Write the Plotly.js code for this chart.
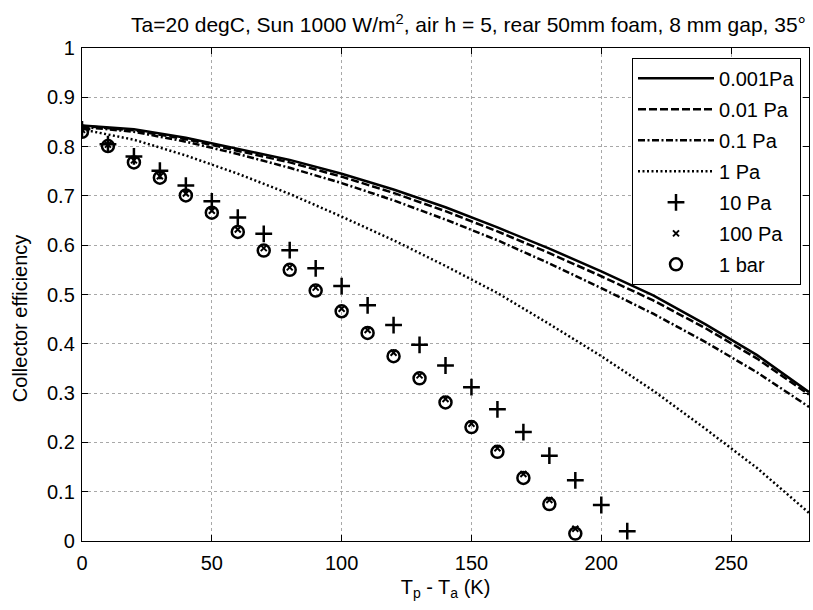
<!DOCTYPE html>
<html>
<head>
<meta charset="utf-8">
<script src="https://cdn.plot.ly/plotly-3.0.1.min.js"></script>
<style>html,body{margin:0;padding:0;background:#fff;} #chart{width:813px;height:610px;}</style>
</head>
<body>
<div id="chart"></div>
<script>
// Line curves (T_p - T_a in K)
const lineX = [0, 20, 40, 60, 80, 100, 120, 140, 160, 180, 200, 220, 240, 260, 280];
const eff_0001Pa = [0.843, 0.835, 0.818, 0.796, 0.773, 0.745, 0.713, 0.677, 0.636, 0.593, 0.547, 0.498, 0.440, 0.377, 0.302];
const eff_001Pa  = [0.842, 0.833, 0.815, 0.792, 0.768, 0.739, 0.706, 0.669, 0.628, 0.584, 0.537, 0.488, 0.432, 0.370, 0.297];
const eff_01Pa   = [0.840, 0.830, 0.810, 0.785, 0.757, 0.726, 0.691, 0.652, 0.610, 0.563, 0.513, 0.461, 0.404, 0.342, 0.272];
const eff_1Pa    = [0.835, 0.814, 0.782, 0.745, 0.704, 0.658, 0.610, 0.558, 0.503, 0.440, 0.375, 0.305, 0.228, 0.148, 0.057];

// Marker series
const x10Pa = [0, 10, 20, 30, 40, 50, 60, 70, 80, 90, 100, 110, 120, 130, 140, 150, 160, 170, 180, 190, 200, 210];
const eff_10Pa = [0.835, 0.805, 0.780, 0.751, 0.721, 0.689, 0.656, 0.623, 0.590, 0.553, 0.517, 0.478, 0.438, 0.398, 0.356, 0.312, 0.267, 0.221, 0.173, 0.123, 0.073, 0.020];
const xBar = [0, 10, 20, 30, 40, 50, 60, 70, 80, 90, 100, 110, 120, 130, 140, 150, 160, 170, 180, 190];
const eff_100Pa = [0.834, 0.804, 0.772, 0.740, 0.705, 0.670, 0.632, 0.594, 0.555, 0.514, 0.471, 0.428, 0.382, 0.336, 0.288, 0.238, 0.188, 0.136, 0.083, 0.025];
const eff_1bar  = [0.830, 0.801, 0.768, 0.737, 0.701, 0.666, 0.627, 0.589, 0.550, 0.508, 0.466, 0.422, 0.375, 0.330, 0.281, 0.231, 0.181, 0.128, 0.075, 0.015];

const names = ["0.001Pa", "0.01 Pa", "0.1 Pa", "1 Pa", "10 Pa", "100 Pa", "1 bar"];
const xTicks = [0, 50, 100, 150, 200, 250];
const yTicks = [0, 0.1, 0.2, 0.3, 0.4, 0.5, 0.6, 0.7, 0.8, 0.9, 1];

const font = "Liberation Sans, Arial, Helvetica, sans-serif";

const traces = [
  {x: lineX, y: eff_0001Pa, name: names[0], mode: "lines", line: {color: "#000", width: 2.5}},
  {x: lineX, y: eff_001Pa, name: names[1], mode: "lines", line: {color: "#000", width: 2.5, dash: "8px,3px"}},
  {x: lineX, y: eff_01Pa, name: names[2], mode: "lines", line: {color: "#000", width: 2.5, dash: "7px,2.5px,2px,2.5px"}},
  {x: lineX, y: eff_1Pa, name: names[3], mode: "lines", line: {color: "#000", width: 2.5, dash: "2px,2.5px"}},
  {x: x10Pa, y: eff_10Pa, name: names[4], mode: "markers", marker: {symbol: "cross-thin-open", size: 12, color: "#000", line: {color: "#000", width: 2.5}}},
  {x: xBar, y: eff_100Pa, name: names[5], mode: "markers", marker: {symbol: "x-thin-open", size: 6, color: "#000", line: {color: "#000", width: 2}}},
  {x: xBar, y: eff_1bar, name: names[6], mode: "markers", marker: {symbol: "circle-open", size: 12, color: "#000", line: {color: "#000", width: 2.5}}}
];
traces.forEach((t, i) => { t.legendgroup = "g" + i; });

const axisCommon = {
  showline: true, linecolor: "#000", linewidth: 1.2, mirror: "ticks",
  ticks: "inside", ticklen: 6, tickcolor: "#000", tickwidth: 1,
  showgrid: true, gridcolor: "#a8a8a8", griddash: "dot", gridwidth: 1,
  zeroline: false, tickfont: {family: font, size: 20, color: "#000"}
};

const layout = {
  width: 813, height: 610,
  margin: {l: 82, r: 4, t: 48, b: 69},
  paper_bgcolor: "#fff", plot_bgcolor: "#fff",
  font: {family: font, color: "#000", size: 20},
  title: {text: "Ta=20 degC, Sun 1000 W/m<sup>2</sup>, air h = 5, rear 50mm foam, 8 mm gap, 35°",
          font: {family: font, size: 21, color: "#000"}, x: 0.9914, xanchor: "right", y: 0.959, yanchor: "middle"},
  xaxis: Object.assign({}, axisCommon, {
    range: [0, 280], tickvals: xTicks, ticklabelstandoff: 4,
    title: {text: "T<sub>p</sub> - T<sub>a</sub> (K)", font: {family: font, size: 20, color: "#000"}, standoff: 6}
  }),
  yaxis: Object.assign({}, axisCommon, {
    range: [0, 1], tickvals: yTicks, ticklabelstandoff: 2
  }),
  annotations: [{
    text: "Collector efficiency", textangle: -90, showarrow: false,
    xref: "paper", yref: "paper", x: -0.0853, y: 0.452, xanchor: "center", yanchor: "middle",
    font: {family: font, size: 20, color: "#000"}
  }],
  showlegend: true,
  legend: {
    x: 0.989, xanchor: "right", y: 0.980, yanchor: "top",
    bgcolor: "#fff", bordercolor: "#000", borderwidth: 1,
    font: {family: font, size: 20, color: "#000"},
    itemwidth: 76,
    traceorder: "grouped", tracegroupgap: 2
  }
};

Plotly.newPlot("chart", traces, layout, {displayModeBar: false, staticPlot: true});
</script>
</body>
</html>
